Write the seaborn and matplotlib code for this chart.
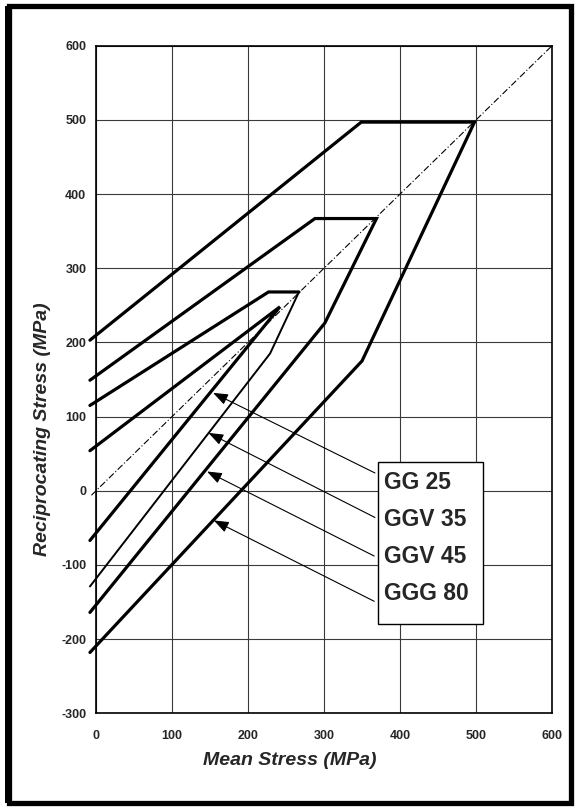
import pandas as pd
import numpy as np
import matplotlib
matplotlib.use('Agg')
import matplotlib.pyplot as plt
from matplotlib.patches import Rectangle
import seaborn as sns

# Smith diagram outlines (mean stress, reciprocating stress)
ggg80_x = [-8, 349, 498, 350, -8]
ggg80_y = [203, 497, 497, 175, -218]
ggv45_x = [-8, 288, 369, 301, -8]
ggv45_y = [149, 367, 367, 226, -164]
ggv35_up_x = [-8, 227, 267]
ggv35_up_y = [115, 268, 268]
ggv35_lo_x = [267, 229, -8]
ggv35_lo_y = [268, 185, -129]
gg25_x = [-8, 242, -8]
gg25_y = [54, 248, -67]
diag_x = [-6, 600]
diag_y = [-6, 600]

labels = ['GG 25', 'GGV 35', 'GGV 45', 'GGG 80']
arrow_tip_x = [154, 148, 146, 155]
arrow_tip_y = [132, 78, 26, -40]
arrow_tail_x = [367, 367, 366, 366]
arrow_tail_y = [24, -36, -88, -149]
label_x = 379
label_y = [3, -47, -97, -147]

x_ticks = [0, 100, 200, 300, 400, 500, 600]
y_ticks = [-300, -200, -100, 0, 100, 200, 300, 400, 500, 600]

sns.set_style('white')
plt.rcParams['font.family'] = ['Liberation Sans', 'DejaVu Sans']
plt.rcParams['axes.unicode_minus'] = False

fig = plt.figure(figsize=(5.76, 8.09), dpi=100)
ax = fig.add_axes([0.1667, 0.1183, 0.7917, 0.8252])

thick = [(ggg80_x, ggg80_y), (ggv45_x, ggv45_y), (ggv35_up_x, ggv35_up_y), (gg25_x, gg25_y)]
for xs, ys in thick:
    df = pd.DataFrame({'x': xs, 'y': ys})
    sns.lineplot(data=df, x='x', y='y', sort=False, estimator=None, color='black',
                 linewidth=2.3, ax=ax)

df = pd.DataFrame({'x': ggv35_lo_x, 'y': ggv35_lo_y})
sns.lineplot(data=df, x='x', y='y', sort=False, estimator=None, color='black',
             linewidth=1.4, ax=ax)

df = pd.DataFrame({'x': diag_x, 'y': diag_y})
sns.lineplot(data=df, x='x', y='y', sort=False, estimator=None, color='black',
             linewidth=0.8, linestyle=(0, (6, 2, 1, 2)), ax=ax)

for ln in ax.lines:
    ln.set_clip_on(False)
    ln.set_solid_joinstyle('miter')

ax.set_xlim(0, 600)
ax.set_ylim(-300, 600)
ax.set_xticks(x_ticks)
ax.set_yticks(y_ticks)
ax.grid(True, color='#3a3a3a', linewidth=0.8)
ax.set_axisbelow(True)
for s in ax.spines.values():
    s.set_color('black')
    s.set_linewidth(1.2)
ax.tick_params(axis='y', direction='out', length=3, width=1, pad=4, labelsize=9)
ax.tick_params(axis='x', direction='out', length=0, pad=12, labelsize=9)
for t in ax.get_xticklabels() + ax.get_yticklabels():
    t.set_fontweight('bold')

ax.set_xlabel('Mean Stress (MPa)', fontsize=14, fontweight='bold', fontstyle='italic')
ax.set_ylabel('Reciprocating Stress (MPa)', fontsize=14, fontweight='bold', fontstyle='italic')
ax.xaxis.set_label_coords(0.424, -0.058)
ax.yaxis.set_label_coords(-0.098, 0.426)

# label box
ax.add_patch(Rectangle((371.6, -180), 138, 219, facecolor='white', edgecolor='black',
                       linewidth=1, zorder=5))
for i, lab in enumerate(labels):
    ax.text(label_x, label_y[i], lab, fontsize=16.5, fontweight='bold', ha='left',
            va='baseline', zorder=6)
    ax.annotate('', xy=(arrow_tip_x[i], arrow_tip_y[i]), xytext=(arrow_tail_x[i], arrow_tail_y[i]),
                arrowprops=dict(arrowstyle='-|>,head_length=0.45,head_width=0.17', color='black',
                                lw=0.8, mutation_scale=20, shrinkA=0, shrinkB=0), zorder=4)

# outer chart border
fig.patches.append(Rectangle((0.0148, 0.0074), 0.9765, 0.9846, transform=fig.transFigure,
                             fill=False, edgecolor='black', linewidth=3.8, zorder=10))
fig.patches.append(Rectangle((0.0085, 0.0074), 0.008, 0.9846, transform=fig.transFigure,
                             facecolor='black', edgecolor='none', zorder=10))

fig.savefig('out.png', dpi=100)
